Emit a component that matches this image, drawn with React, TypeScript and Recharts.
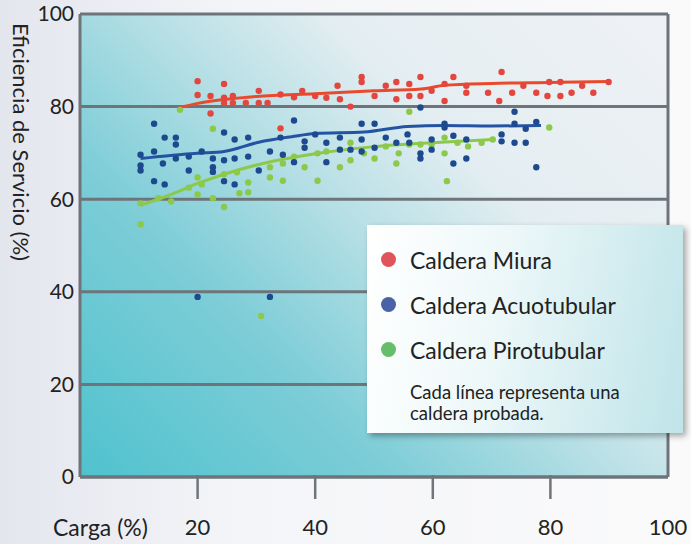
import React from 'react';
import {
  ComposedChart,
  Scatter,
  Line,
  XAxis,
  YAxis,
  CartesianGrid,
  ReferenceLine,
  Legend
} from 'recharts';

// axis ticks
const xTicks = [20, 40, 60, 80, 100];
const yTicks = [0, 20, 40, 60, 80, 100];

// Caldera Miura - measured points [carga, eficiencia]
const miuraPoints = [
  [20, 85.5], [20, 82.5], [22.2, 78.5], [22.2, 82.3], [24.5, 84.9], [24.5, 81.9], [24.5, 80.8],
  [26, 82.3], [26, 80.8], [28.2, 80.8], [30.4, 83.4], [30.4, 80.8], [31.9, 80.8], [34.1, 82.6],
  [34.1, 75.3], [36.4, 82], [37.8, 83.4], [40, 82.3], [41.9, 81.9], [43.8, 84.5], [44.2, 81.6],
  [46, 80], [47.9, 86.4], [47.9, 85.3], [50.1, 82.3], [52, 84.5], [53.8, 85.3], [53.8, 81.6],
  [56, 84.9], [56, 82.3], [57.9, 86.4], [57.9, 82.3], [59.8, 83.4], [62, 84.9], [62, 81.2],
  [63.5, 86.4], [65.7, 84.5], [65.7, 83], [69.4, 83], [71.3, 81.2], [71.7, 87.5], [73.5, 83],
  [75.4, 84.5], [77.6, 83], [79.8, 85.3], [79.5, 82.3], [81.7, 85.3], [81.7, 82.3], [83.6, 83],
  [85.4, 84.5], [87.3, 83], [89.9, 85.3]
];

// Caldera Acuotubular
const acuoPoints = [
  [10.3, 69.6], [10.3, 67.3], [10.3, 66.2], [12.6, 76.3], [12.6, 70.3], [12.6, 63.9], [14.1, 67.7],
  [14.4, 63.2], [14.4, 73.3], [16.3, 73.3], [16.3, 71.8], [16.3, 68.8], [18.5, 69.2], [18.5, 66.2],
  [20, 38.9], [20.7, 70.3], [22.6, 68.8], [22.6, 66.9], [22.6, 65.9], [24.5, 74.4], [24.5, 68.4],
  [24.5, 63.9], [26.3, 72.9], [26.3, 68.8], [26.3, 63.2], [28.6, 73.3], [28.6, 69.2], [30.4, 66.2],
  [32.3, 38.9], [32.3, 70.3], [34.1, 73.3], [34.5, 69.6], [36.4, 77], [36.4, 68], [38.2, 72.5],
  [38.2, 71.1], [40, 74], [41.9, 72.2], [41.9, 68], [44.2, 73.3], [44.2, 70.7], [46, 70.7],
  [47.9, 76.3], [47.9, 72.9], [47.9, 70.3], [50.1, 76.3], [50.1, 71.1], [52, 73.3], [53.8, 72.2],
  [55.7, 74], [56, 72.2], [57.9, 79.8], [57.9, 69.9], [57.9, 68.8], [59.8, 72.9], [59.8, 70.7],
  [62, 76.3], [62, 75.5], [63.5, 73.7], [63.5, 67.7], [65.7, 72.9], [65.7, 68.8], [71.7, 74],
  [71.7, 72.5], [73.9, 78.9], [73.9, 76.3], [73.9, 72.2], [75.8, 75.2], [75.8, 72.2], [77.6, 76.7],
  [77.6, 66.9]
];

// Caldera Pirotubular
const piroPoints = [
  [10.3, 59.1], [10.3, 54.6], [13.3, 60.2], [15.5, 59.5], [17, 79.3], [18.5, 62.5], [20, 64.7],
  [20, 61], [20.7, 63.2], [22.6, 75.2], [22.6, 60.2], [24.5, 58.3], [24.5, 65.4], [26.7, 65.8],
  [27.1, 61.3], [28.6, 63.6], [28.6, 61.5], [30.8, 34.8], [32.3, 66.9], [32.3, 64.7], [34.5, 64],
  [34.5, 67.7], [36.4, 69.2], [38.2, 66.9], [40.4, 64], [40.4, 69.9], [41.9, 70.3], [44.2, 66.9],
  [46, 72.2], [46, 68.4], [48.3, 69.9], [50.1, 68.8], [52, 71.4], [53.8, 67.7], [54.2, 69.9],
  [56, 78.9], [56, 71.8], [57.9, 71.8], [59.8, 71.8], [62, 69.9], [62.4, 63.9], [62, 73.3],
  [64.2, 72.2], [66, 71.4], [68.3, 72.2], [70.2, 72.9], [79.8, 75.5]
];

// trend lines (one per boiler type)
const miuraTrend = [
  [17, 79.8], [20, 80.7], [25, 81.6], [30, 82.2], [40, 82.8], [50, 83.4], [58, 83.8],
  [62, 84.6], [70, 85], [80, 85.2], [90, 85.4]
];
const acuoTrend = [
  [10.3, 68.8], [15, 69.4], [20, 69.9], [24.5, 70.3], [30.4, 72.3], [36, 73.5], [40, 74.2],
  [48.3, 74.5], [55.7, 75.7], [62, 75.9], [70, 75.8], [78.4, 75.9]
];
const piroTrend = [
  [10.3, 58.7], [15, 60.8], [20, 63.4], [24.5, 65.4], [30.4, 67.5], [40, 69.8], [49.7, 71.3],
  [59.8, 72.2], [70.2, 72.9]
];

const toXY = (pts: number[][]) => pts.map(([x, y]) => ({ x, y }));

const RED = '#e2463f';
const BLUE = '#1d4a8e';
const GREEN = '#8cc94a';

const legendItems = [
  { label: 'Caldera Miura', color: '#e0555b' },
  { label: 'Caldera Acuotubular', color: '#4a62a6' },
  { label: 'Caldera Pirotubular', color: '#66be6a' }
];

const FONT = 'Lato, "Open Sans", sans-serif';

const dot = (color: string) => (props: any) => (
  <circle cx={props.cx} cy={props.cy} r={3.2} fill={color} />
);

const XTick = ({ x, y, payload }: any) => (
  <g>
    {payload.value !== 100 && (
      <line x1={x} x2={x} y1={y - 2} y2={y + 22} stroke="#6f7579" strokeWidth={2.5} />
    )}
    <text x={x} y={y + 58} textAnchor="middle" fontSize={22} fill="#222" fontFamily={FONT}>
      {payload.value}
    </text>
  </g>
);

const LegendBox = () => (
  <div
    style={{
      width: 316,
      height: 208,
      boxSizing: 'border-box',
      padding: '12px 0 0 14px',
      background: 'linear-gradient(100deg, #ffffff 0%, #eef8f9 40%, #bfe4e9 100%)',
      boxShadow: '3px 3px 6px rgba(0,0,0,0.35)',
      fontFamily: FONT,
      color: '#222',
      textAlign: 'left'
    }}
  >
    {legendItems.map(item => (
      <div key={item.label} style={{ display: 'flex', alignItems: 'center', height: 45 }}>
        <span
          style={{
            width: 15,
            height: 15,
            borderRadius: '50%',
            background: item.color,
            display: 'inline-block',
            marginRight: 14
          }}
        />
        <span style={{ fontSize: 23 }}>{item.label}</span>
      </div>
    ))}
    <div style={{ fontSize: 18.5, lineHeight: '21px', marginLeft: 29, marginTop: 10 }}>
      Cada línea representa una
      <br />
      caldera probada.
    </div>
  </div>
);

const App: React.FC = () => {
  return (
    <div
      style={{
        position: 'relative',
        width: 691,
        height: 544,
        background: 'linear-gradient(90deg, #e4e6ee 0%, #f4f5f8 35%, #fafafb 100%)',
        overflow: 'hidden'
      }}
    >
      <style>{'body{margin:0}'}</style>
      {/* plot area background */}
      <div
        style={{
          position: 'absolute',
          left: 80,
          top: 14,
          width: 588,
          height: 463,
          background:
            'linear-gradient(45deg, #4fc2ce 0%, #7dcdd7 30%, #b5dfe5 50%, #e4eef2 68%, #eff1f5 100%)'
        }}
      />
      <div style={{ position: 'absolute', left: 0, top: 0 }}>
        <ComposedChart
          width={691}
          height={544}
          margin={{ top: 14, right: 23, bottom: 0, left: 0 }}
        >
          <CartesianGrid
            horizontal={true}
            vertical={false}
            stroke="#6e757a"
            strokeWidth={3}
          />
          <XAxis
            type="number"
            dataKey="x"
            domain={[0, 100]}
            ticks={xTicks}
            height={67}
            tickLine={false}
            tickSize={0}
            tickMargin={0}
            axisLine={{ stroke: '#6e757a', strokeWidth: 3 }}
            tick={<XTick />}
            label={{
              content: () => (
                <text x={53} y={536} fontSize={23} fill="#222" fontFamily={FONT}>
                  Carga (%)
                </text>
              )
            }}
          />
          <YAxis
            type="number"
            dataKey="y"
            domain={[0, 100]}
            ticks={yTicks}
            width={80}
            tickLine={false}
            tickSize={0}
            tickMargin={6}
            axisLine={{ stroke: '#6e757a', strokeWidth: 3 }}
            tick={{ fontSize: 21, fill: '#222', fontFamily: FONT }}
            label={{
              content: () => (
                <text
                  x={19}
                  y={142}
                  transform="rotate(90 19 142)"
                  textAnchor="middle"
                  dominantBaseline="middle"
                  fontSize={22}
                  fill="#222"
                  fontFamily={FONT}
                >
                  Eficiencia de Servicio (%)
                </text>
              )
            }}
          />
          <ReferenceLine x={100} stroke="#6e757a" strokeWidth={3} />
          <Scatter data={toXY(piroPoints)} fill={GREEN} shape={dot(GREEN)} isAnimationActive={false} />
          <Scatter data={toXY(acuoPoints)} fill={BLUE} shape={dot(BLUE)} isAnimationActive={false} />
          <Scatter data={toXY(miuraPoints)} fill={RED} shape={dot(RED)} isAnimationActive={false} />
          <Line
            data={toXY(piroTrend)}
            dataKey="y"
            type="monotone"
            stroke={GREEN}
            strokeWidth={3}
            dot={false}
            isAnimationActive={false}
          />
          <Line
            data={toXY(acuoTrend)}
            dataKey="y"
            type="monotone"
            stroke="#2553a3"
            strokeWidth={3}
            dot={false}
            isAnimationActive={false}
          />
          <Line
            data={toXY(miuraTrend)}
            dataKey="y"
            type="monotone"
            stroke="#ea4a2c"
            strokeWidth={3}
            dot={false}
            isAnimationActive={false}
          />
          <Legend
            layout="horizontal"
            verticalAlign="middle"
            align="center"
            width={316}
            height={208}
            wrapperStyle={{ left: 367, top: 225, width: 316, height: 208 }}
            content={<LegendBox />}
          />
        </ComposedChart>
      </div>
    </div>
  );
};

export default App;
